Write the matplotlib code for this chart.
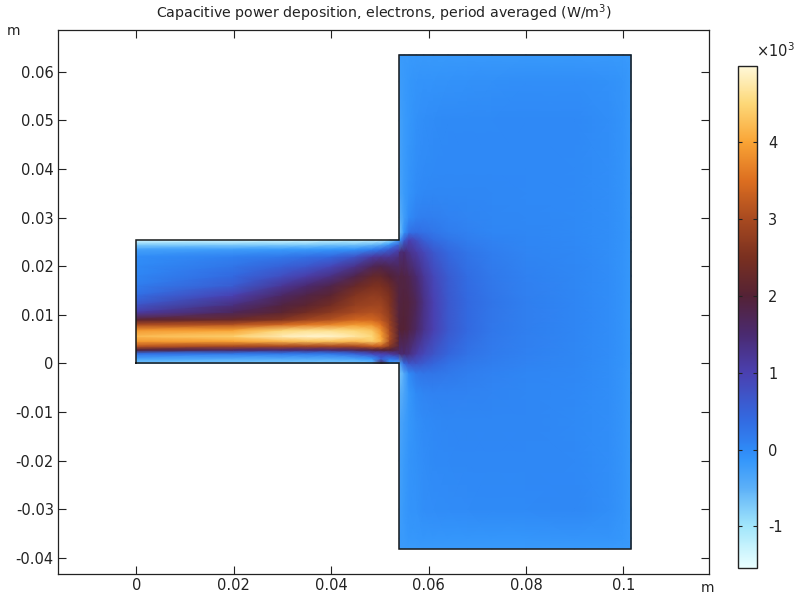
import numpy as np
import matplotlib; matplotlib.use('Agg')
import matplotlib.pyplot as plt
from matplotlib.colors import LinearSegmentedColormap, Normalize

# values in units of 10^3 W/m^3
tube_x=[0,.02,.03,.035,.04,.045,.0485,.0503,.052,.054]
tube_y=[0,.001,.002,.0028,.0036,.0046,.0056,.0068,.008,.009,.0105,.012,.014,.016,.018,.02,.022,.0235,.0245,.0254]
tube_vals=[  # one row per tube_x, bottom to top
 [-.7,-.3,.3,2.0,3.2,3.9,4.2,3.9,3.0,2.1,1.1,.7,.35,.15,.05,0,-.05,-.3,-.8,-1.4],
 [-.7,-.4,.2,1.6,3.0,4.0,4.4,4.0,3.1,2.3,1.7,1.4,1.0,.6,.4,.25,.1,-.25,-.8,-1.4],
 [-.7,-.4,.2,1.5,3.0,4.2,4.8,4.5,3.4,2.6,2.1,1.9,1.6,1.2,.8,.5,.2,-.2,-.8,-1.4],
 [-.7,-.4,.2,1.5,3.0,4.3,4.9,4.6,3.6,2.9,2.4,2.1,1.85,1.5,1.05,.65,.3,-.2,-.8,-1.4],
 [-.7,-.4,.2,1.5,3.0,4.3,4.9,4.6,3.7,3.1,2.7,2.4,2.1,1.8,1.35,.9,.4,-.15,-.7,-1.3],
 [-.7,-.3,.5,1.7,3.0,4.2,4.7,4.5,3.9,3.4,3.0,2.8,2.6,2.25,1.8,1.3,.7,-.1,-.7,-1.3],
 [-.6,-.1,.9,1.9,3.3,4.4,4.5,4.3,3.8,3.4,3.1,2.9,2.75,2.5,2.2,1.7,1.1,.1,-.6,-1.3],
 [1.8,.6,1.0,2.0,3.3,4.1,4.0,3.8,3.5,3.2,3.0,2.9,2.7,2.5,2.2,1.8,1.2,.3,-.5,-1.3],
 [-.2,.2,1.1,2.0,2.7,3.0,3.1,3.0,2.9,2.8,2.7,2.6,2.5,2.3,2.0,1.7,1.2,.6,-.2,-1.0],
 [-.4,.5,1.4,1.7,1.9,2.0,2.0,2.0,2.0,1.95,1.9,1.9,1.9,1.9,1.8,1.6,1.4,1.0,.5,-.2],
]
chamber_x=[.054,.055,.056,.0575,.059,.061,.064,.068,.073,.08,.09,.097,.1,.1016]
chamber_y=[-.0381,-.036,-.03,-.02,-.012,-.006,-.002,0,.002,.007,.0127,.018,.023,.0254,.027,.03,.035,.04,.05,.058,.0635]
chamber_vals=[  # one row per chamber_y, left to right
 [-.2,-.2,-.2,-.2,-.18,-.18,-.18,-.18,-.18,-.18,-.18,-.18,-.18,-.18],
 [-.2,-.18,-.15,-.14,-.13,-.13,-.13,-.13,-.13,-.13,-.12,-.12,-.14,-.18],
 [-.25,-.17,-.12,-.1,-.06,-.04,-.03,-.02,0,0,.02,-.05,-.12,-.18],
 [-.28,-.2,-.12,-.08,-.04,-.01,.01,.02,.02,.02,.01,-.05,-.12,-.18],
 [-.35,-.25,-.15,-.07,-.02,.01,.03,.04,.03,.03,0,-.06,-.12,-.18],
 [-.5,-.35,-.15,0,.06,.08,.08,.07,.06,.04,.01,-.06,-.12,-.18],
 [-.7,-.4,0,.2,.25,.25,.2,.14,.09,.05,.02,-.05,-.12,-.18],
 [-.4,.4,.7,.7,.6,.45,.3,.2,.13,.07,.03,-.05,-.11,-.17],
 [1.5,1.5,1.4,1.1,.9,.7,.45,.28,.17,.1,.04,-.04,-.1,-.16],
 [2.0,2.0,1.85,1.6,1.3,1.0,.65,.4,.22,.12,.05,-.04,-.1,-.16],
 [1.9,1.95,1.9,1.7,1.35,1.0,.65,.4,.25,.12,.05,-.04,-.1,-.16],
 [1.9,1.85,1.75,1.5,1.2,.9,.6,.35,.2,.1,.04,-.04,-.1,-.16],
 [1.4,1.5,1.3,1.1,.9,.65,.42,.25,.13,.06,.02,-.05,-.1,-.16],
 [-.2,.6,1.0,.8,.55,.38,.25,.15,.08,.05,.01,-.05,-.11,-.16],
 [-.7,-.1,.3,.35,.3,.24,.15,.1,.05,.03,0,-.05,-.11,-.16],
 [-.5,-.25,-.02,.1,.13,.12,.08,.06,.04,.02,0,-.05,-.11,-.17],
 [-.35,-.2,-.1,-.02,.02,.03,.03,.03,.02,.01,0,-.05,-.11,-.17],
 [-.3,-.2,-.12,-.05,-.02,0,.01,.01,.01,.01,0,-.05,-.11,-.17],
 [-.28,-.2,-.14,-.08,-.05,-.03,-.01,0,0,.01,.01,-.05,-.11,-.17],
 [-.22,-.18,-.15,-.12,-.11,-.1,-.09,-.08,-.07,-.06,-.06,-.08,-.12,-.17],
 [-.2,-.18,-.18,-.17,-.17,-.17,-.17,-.17,-.17,-.17,-.17,-.17,-.17,-.18],
]
outline_x=[0,.054,.054,.1016,.1016,.054,.054,0,0]
outline_y=[0,0,-.0381,-.0381,.0635,.0635,.0254,.0254,0]
x_ticks=[0,.02,.04,.06,.08,.1]
x_labels=['0','0.02','0.04','0.06','0.08','0.1']
y_ticks=[-.04,-.03,-.02,-.01,0,.01,.02,.03,.04,.05,.06]
y_labels=['-0.04','-0.03','-0.02','-0.01','0','0.01','0.02','0.03','0.04','0.05','0.06']
cb_ticks=[-1,0,1,2,3,4]
vmin,vmax=-1.54,4.985

# colormap stops: value, colour
stops=[(-1.54,'#eaffff'),(-1,'#a2e6fb'),(-.5,'#5cb0f8'),(-.15,'#3597fb'),(0,'#2f89f6'),(.4,'#3369e0'),
       (1,'#4a40b0'),(1.5,'#4a2a70'),(2,'#542235'),(2.5,'#7a3020'),(3,'#a84a20'),(3.5,'#dc6e20'),
       (4,'#f9a435'),(4.5,'#fdd878'),(4.985,'#fff8d8')]
cmap=LinearSegmentedColormap.from_list('heat',[((v-vmin)/(vmax-vmin),c) for v,c in stops],N=512)
norm=Normalize(vmin,vmax)

fig=plt.figure(figsize=(7.95,6),dpi=100)
W,H=795,600
ax=fig.add_axes([58/W,1-573.5/H,651/W,543.5/H])
X,Y=np.meshgrid(tube_x,tube_y,indexing='ij')
ax.pcolormesh(X,Y,np.array(tube_vals),shading='gouraud',cmap=cmap,norm=norm)
X,Y=np.meshgrid(chamber_x,chamber_y)
m=ax.pcolormesh(X,Y,np.array(chamber_vals),shading='gouraud',cmap=cmap,norm=norm)
ax.plot(outline_x,outline_y,color='#1a1a1a',lw=1.1,solid_joinstyle='miter')
ax.set_xlim(-.0161,.1176); ax.set_ylim(-.0432,.0686)
ax.set_xticks(x_ticks,x_labels); ax.set_yticks(y_ticks,y_labels)
ax.tick_params(direction='in',length=5.5,width=.8,top=True,right=True,labelsize=10.5,color='#222222',labelcolor='#222222',pad=3)
for s in ax.spines.values(): s.set_linewidth(.9); s.set_color('#222222')
fig.text(384/W,1-13.5/H,'Capacitive power deposition, electrons, period averaged (W/m$^3$)',ha='center',va='center',fontsize=10.15,color='#222222')
fig.text(14/W,1-31/H,'m',ha='center',va='center',fontsize=10,color='#222222')
fig.text(707/W,1-588/H,'m',ha='center',va='center',fontsize=10,color='#222222')

cax=fig.add_axes([738/W,1-568/H,19/W,502/H])
cb=fig.colorbar(m,cax=cax,ticks=cb_ticks)
cb.set_ticklabels([str(t) for t in cb_ticks])
cax.tick_params(direction='in',length=3,width=.8,left=True,right=True,labelsize=10.5,color='#222222',labelcolor='#222222',pad=8)
cb.outline.set_linewidth(1); cb.outline.set_edgecolor('#222222')
fig.text(775/W,1-51/H,r'$\times$10$^3$',ha='center',va='center',fontsize=10.5,color='#222222')
fig.savefig('out.png',dpi=100)
